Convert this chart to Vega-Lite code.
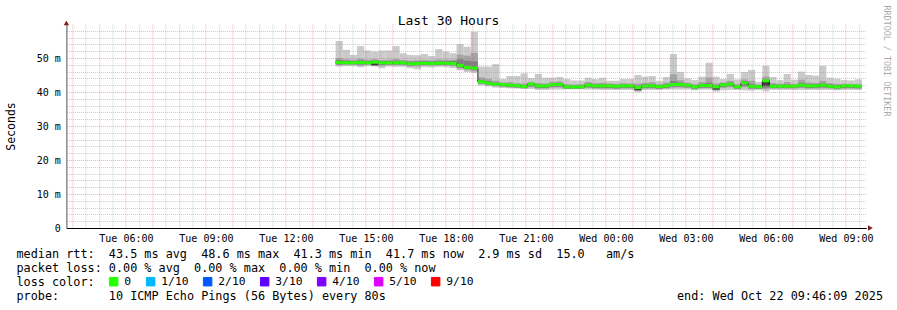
{
  "$schema": "https://vega.github.io/schema/vega-lite/v6.json",
  "width": 800,
  "height": 204,
  "autosize": {"type": "none"},
  "padding": {"left": 66.4, "top": 24, "right": 30.6, "bottom": 82},
  "background": "white",
  "config": {"view": {"stroke": null}, "font": "DejaVu Sans Mono"},
  "data": {
    "format": {"parse": {"s": "date", "e": "date"}},
    "values": [
      {"s":"2025-10-21T13:52Z","e":"2025-10-21T14:08Z","mn":47.5,"mx":55.0,"l2":47.9,"h2":50.0,"l3":48.1,"h3":49.4,"md":48.7,"loss":"0"},
      {"s":"2025-10-21T14:08Z","e":"2025-10-21T14:24Z","mn":47.6,"mx":52.4,"l2":48.0,"h2":49.6,"l3":48.2,"h3":49.2,"md":48.6,"loss":"0"},
      {"s":"2025-10-21T14:24Z","e":"2025-10-21T14:40Z","mn":47.6,"mx":50.9,"l2":48.0,"h2":49.5,"l3":48.2,"h3":49.1,"md":48.6,"loss":"0"},
      {"s":"2025-10-21T14:40Z","e":"2025-10-21T14:56Z","mn":47.3,"mx":53.5,"l2":47.8,"h2":49.8,"l3":48.1,"h3":49.3,"md":48.7,"loss":"0"},
      {"s":"2025-10-21T14:56Z","e":"2025-10-21T15:12Z","mn":47.6,"mx":52.2,"l2":48.0,"h2":49.5,"l3":48.2,"h3":49.1,"md":48.6,"loss":"0"},
      {"s":"2025-10-21T15:12Z","e":"2025-10-21T15:28Z","mn":47.5,"mx":51.9,"l2":47.8,"h2":49.6,"l3":48.0,"h3":49.3,"md":48.8,"loss":"0"},
      {"s":"2025-10-21T15:28Z","e":"2025-10-21T15:44Z","mn":47.0,"mx":52.2,"l2":47.6,"h2":49.4,"l3":48.0,"h3":49.1,"md":48.6,"loss":"0"},
      {"s":"2025-10-21T15:44Z","e":"2025-10-21T16:00Z","mn":47.5,"mx":52.2,"l2":47.9,"h2":49.5,"l3":48.1,"h3":49.1,"md":48.6,"loss":"0"},
      {"s":"2025-10-21T16:00Z","e":"2025-10-21T16:16Z","mn":47.4,"mx":53.5,"l2":47.9,"h2":49.7,"l3":48.1,"h3":49.2,"md":48.6,"loss":"0"},
      {"s":"2025-10-21T16:16Z","e":"2025-10-21T16:32Z","mn":47.4,"mx":51.4,"l2":47.9,"h2":49.4,"l3":48.1,"h3":49.1,"md":48.6,"loss":"0"},
      {"s":"2025-10-21T16:32Z","e":"2025-10-21T16:48Z","mn":47.0,"mx":50.9,"l2":47.5,"h2":49.2,"l3":47.8,"h3":48.9,"md":48.3,"loss":"0"},
      {"s":"2025-10-21T16:48Z","e":"2025-10-21T17:04Z","mn":46.7,"mx":50.8,"l2":47.5,"h2":49.3,"l3":47.9,"h3":49.0,"md":48.4,"loss":"0"},
      {"s":"2025-10-21T17:04Z","e":"2025-10-21T17:20Z","mn":47.3,"mx":51.2,"l2":47.8,"h2":49.4,"l3":48.0,"h3":49.1,"md":48.5,"loss":"0"},
      {"s":"2025-10-21T17:20Z","e":"2025-10-21T17:36Z","mn":47.2,"mx":50.6,"l2":47.7,"h2":49.3,"l3":48.0,"h3":49.0,"md":48.4,"loss":"0"},
      {"s":"2025-10-21T17:36Z","e":"2025-10-21T17:52Z","mn":47.4,"mx":52.6,"l2":47.8,"h2":49.6,"l3":48.0,"h3":49.1,"md":48.5,"loss":"0"},
      {"s":"2025-10-21T17:52Z","e":"2025-10-21T18:08Z","mn":47.3,"mx":51.9,"l2":47.8,"h2":49.5,"l3":48.0,"h3":49.1,"md":48.5,"loss":"0"},
      {"s":"2025-10-21T18:08Z","e":"2025-10-21T18:24Z","mn":47.0,"mx":51.4,"l2":47.6,"h2":49.5,"l3":47.9,"h3":49.1,"md":48.4,"loss":"0"},
      {"s":"2025-10-21T18:24Z","e":"2025-10-21T18:40Z","mn":46.4,"mx":54.1,"l2":46.9,"h2":51.0,"l3":47.2,"h3":49.6,"md":47.8,"loss":"0"},
      {"s":"2025-10-21T18:40Z","e":"2025-10-21T18:56Z","mn":45.9,"mx":53.3,"l2":46.4,"h2":50.7,"l3":46.8,"h3":49.2,"md":47.2,"loss":"0"},
      {"s":"2025-10-21T18:56Z","e":"2025-10-21T19:12Z","mn":45.6,"mx":57.7,"l2":46.1,"h2":51.5,"l3":46.5,"h3":49.0,"md":47.0,"loss":"0"},
      {"s":"2025-10-21T19:12Z","e":"2025-10-21T19:28Z","mn":41.9,"mx":47.5,"l2":42.3,"h2":44.3,"l3":42.6,"h3":43.6,"md":43.0,"loss":"0"},
      {"s":"2025-10-21T19:28Z","e":"2025-10-21T19:44Z","mn":41.6,"mx":47.5,"l2":42.0,"h2":43.9,"l3":42.2,"h3":43.2,"md":42.6,"loss":"0"},
      {"s":"2025-10-21T19:44Z","e":"2025-10-21T20:00Z","mn":41.3,"mx":48.2,"l2":41.7,"h2":43.3,"l3":41.9,"h3":42.8,"md":42.3,"loss":"0"},
      {"s":"2025-10-21T20:00Z","e":"2025-10-21T20:16Z","mn":41.2,"mx":43.8,"l2":41.5,"h2":42.8,"l3":41.7,"h3":42.5,"md":42.2,"loss":"0"},
      {"s":"2025-10-21T20:16Z","e":"2025-10-21T20:32Z","mn":41.1,"mx":44.7,"l2":41.3,"h2":42.9,"l3":41.5,"h3":42.4,"md":42.0,"loss":"0"},
      {"s":"2025-10-21T20:32Z","e":"2025-10-21T20:48Z","mn":41.0,"mx":44.7,"l2":41.2,"h2":42.6,"l3":41.4,"h3":42.2,"md":41.9,"loss":"0"},
      {"s":"2025-10-21T20:48Z","e":"2025-10-21T21:04Z","mn":40.9,"mx":45.5,"l2":41.0,"h2":42.5,"l3":41.2,"h3":42.1,"md":41.6,"loss":"0"},
      {"s":"2025-10-21T21:04Z","e":"2025-10-21T21:20Z","mn":40.9,"mx":44.1,"l2":41.4,"h2":42.9,"l3":41.7,"h3":42.7,"md":42.3,"loss":"0"},
      {"s":"2025-10-21T21:20Z","e":"2025-10-21T21:36Z","mn":40.6,"mx":45.3,"l2":41.0,"h2":42.6,"l3":41.2,"h3":42.2,"md":41.8,"loss":"0"},
      {"s":"2025-10-21T21:36Z","e":"2025-10-21T21:52Z","mn":40.6,"mx":44.2,"l2":41.0,"h2":42.5,"l3":41.2,"h3":42.2,"md":41.8,"loss":"0"},
      {"s":"2025-10-21T21:52Z","e":"2025-10-21T22:08Z","mn":40.7,"mx":44.2,"l2":41.3,"h2":43.0,"l3":41.6,"h3":42.6,"md":42.2,"loss":"0"},
      {"s":"2025-10-21T22:08Z","e":"2025-10-21T22:24Z","mn":40.7,"mx":44.4,"l2":41.3,"h2":43.1,"l3":41.6,"h3":42.7,"md":42.2,"loss":"0"},
      {"s":"2025-10-21T22:24Z","e":"2025-10-21T22:40Z","mn":40.8,"mx":43.8,"l2":41.0,"h2":42.3,"l3":41.0,"h3":41.9,"md":41.5,"loss":"0"},
      {"s":"2025-10-21T22:40Z","e":"2025-10-21T22:56Z","mn":40.8,"mx":43.4,"l2":41.0,"h2":42.2,"l3":41.0,"h3":41.9,"md":41.5,"loss":"0"},
      {"s":"2025-10-21T22:56Z","e":"2025-10-21T23:12Z","mn":40.8,"mx":43.4,"l2":41.0,"h2":42.3,"l3":41.0,"h3":41.9,"md":41.5,"loss":"0"},
      {"s":"2025-10-21T23:12Z","e":"2025-10-21T23:28Z","mn":40.7,"mx":44.2,"l2":41.2,"h2":42.9,"l3":41.4,"h3":42.5,"md":42.0,"loss":"0"},
      {"s":"2025-10-21T23:28Z","e":"2025-10-21T23:44Z","mn":40.7,"mx":43.8,"l2":41.0,"h2":42.6,"l3":41.2,"h3":42.2,"md":41.8,"loss":"0"},
      {"s":"2025-10-21T23:44Z","e":"2025-10-22T00:00Z","mn":40.6,"mx":44.2,"l2":41.0,"h2":42.7,"l3":41.2,"h3":42.3,"md":41.8,"loss":"0"},
      {"s":"2025-10-22T00:00Z","e":"2025-10-22T00:16Z","mn":40.6,"mx":43.3,"l2":41.0,"h2":42.5,"l3":41.2,"h3":42.2,"md":41.8,"loss":"0"},
      {"s":"2025-10-22T00:16Z","e":"2025-10-22T00:32Z","mn":40.6,"mx":43.3,"l2":40.9,"h2":42.4,"l3":41.1,"h3":42.1,"md":41.7,"loss":"0"},
      {"s":"2025-10-22T00:32Z","e":"2025-10-22T00:48Z","mn":40.6,"mx":43.8,"l2":41.0,"h2":42.6,"l3":41.2,"h3":42.2,"md":41.8,"loss":"0"},
      {"s":"2025-10-22T00:48Z","e":"2025-10-22T01:04Z","mn":40.6,"mx":43.8,"l2":41.0,"h2":42.5,"l3":41.2,"h3":42.2,"md":41.8,"loss":"0"},
      {"s":"2025-10-22T01:04Z","e":"2025-10-22T01:20Z","mn":40.0,"mx":45.0,"l2":40.5,"h2":42.5,"l3":40.7,"h3":41.8,"md":41.3,"loss":"0"},
      {"s":"2025-10-22T01:20Z","e":"2025-10-22T01:36Z","mn":40.6,"mx":44.5,"l2":41.0,"h2":42.7,"l3":41.2,"h3":42.3,"md":41.8,"loss":"0"},
      {"s":"2025-10-22T01:36Z","e":"2025-10-22T01:52Z","mn":40.6,"mx":44.7,"l2":41.0,"h2":42.9,"l3":41.2,"h3":42.3,"md":41.8,"loss":"0"},
      {"s":"2025-10-22T01:52Z","e":"2025-10-22T02:08Z","mn":40.6,"mx":43.3,"l2":40.9,"h2":42.3,"l3":41.0,"h3":42.0,"md":41.6,"loss":"0"},
      {"s":"2025-10-22T02:08Z","e":"2025-10-22T02:24Z","mn":40.7,"mx":44.4,"l2":41.0,"h2":42.8,"l3":41.2,"h3":42.3,"md":41.8,"loss":"0"},
      {"s":"2025-10-22T02:24Z","e":"2025-10-22T02:40Z","mn":40.7,"mx":51.2,"l2":41.3,"h2":45.2,"l3":41.6,"h3":43.2,"md":42.2,"loss":"0"},
      {"s":"2025-10-22T02:40Z","e":"2025-10-22T02:56Z","mn":40.7,"mx":45.9,"l2":41.3,"h2":43.5,"l3":41.6,"h3":42.8,"md":42.2,"loss":"0"},
      {"s":"2025-10-22T02:56Z","e":"2025-10-22T03:12Z","mn":40.7,"mx":44.0,"l2":41.2,"h2":42.7,"l3":41.4,"h3":42.4,"md":42.0,"loss":"0"},
      {"s":"2025-10-22T03:12Z","e":"2025-10-22T03:28Z","mn":40.5,"mx":43.5,"l2":40.8,"h2":42.3,"l3":41.0,"h3":41.9,"md":41.5,"loss":"0"},
      {"s":"2025-10-22T03:28Z","e":"2025-10-22T03:44Z","mn":40.7,"mx":44.5,"l2":41.1,"h2":42.9,"l3":41.3,"h3":42.4,"md":41.9,"loss":"0"},
      {"s":"2025-10-22T03:44Z","e":"2025-10-22T04:00Z","mn":40.7,"mx":48.6,"l2":41.1,"h2":44.3,"l3":41.3,"h3":42.7,"md":41.9,"loss":"0"},
      {"s":"2025-10-22T04:00Z","e":"2025-10-22T04:16Z","mn":40.1,"mx":44.5,"l2":40.6,"h2":42.5,"l3":40.8,"h3":41.9,"md":41.5,"loss":"0"},
      {"s":"2025-10-22T04:16Z","e":"2025-10-22T04:32Z","mn":40.5,"mx":43.8,"l2":41.2,"h2":42.8,"l3":41.5,"h3":42.5,"md":42.1,"loss":"0"},
      {"s":"2025-10-22T04:32Z","e":"2025-10-22T04:48Z","mn":40.6,"mx":45.3,"l2":41.4,"h2":43.3,"l3":41.7,"h3":42.8,"md":42.3,"loss":"0"},
      {"s":"2025-10-22T04:48Z","e":"2025-10-22T05:04Z","mn":40.6,"mx":43.7,"l2":40.9,"h2":42.3,"l3":41.0,"h3":41.9,"md":41.5,"loss":"0"},
      {"s":"2025-10-22T05:04Z","e":"2025-10-22T05:20Z","mn":40.5,"mx":45.9,"l2":41.4,"h2":43.7,"l3":41.8,"h3":43.2,"md":42.7,"loss":"0"},
      {"s":"2025-10-22T05:20Z","e":"2025-10-22T05:36Z","mn":40.4,"mx":46.5,"l2":40.9,"h2":43.3,"l3":41.1,"h3":42.3,"md":41.7,"loss":"0"},
      {"s":"2025-10-22T05:36Z","e":"2025-10-22T05:52Z","mn":40.6,"mx":43.0,"l2":40.9,"h2":42.2,"l3":41.0,"h3":41.9,"md":41.5,"loss":"0"},
      {"s":"2025-10-22T05:52Z","e":"2025-10-22T06:08Z","mn":40.2,"mx":47.7,"l2":40.9,"h2":44.5,"l3":41.3,"h3":43.7,"md":43.3,"loss":"0"},
      {"s":"2025-10-22T06:08Z","e":"2025-10-22T06:24Z","mn":40.6,"mx":44.4,"l2":41.0,"h2":42.6,"l3":41.2,"h3":42.2,"md":41.7,"loss":"0"},
      {"s":"2025-10-22T06:24Z","e":"2025-10-22T06:40Z","mn":40.6,"mx":43.5,"l2":41.0,"h2":42.4,"l3":41.2,"h3":42.1,"md":41.7,"loss":"0"},
      {"s":"2025-10-22T06:40Z","e":"2025-10-22T06:56Z","mn":40.6,"mx":45.3,"l2":41.0,"h2":42.9,"l3":41.2,"h3":42.2,"md":41.7,"loss":"0"},
      {"s":"2025-10-22T06:56Z","e":"2025-10-22T07:12Z","mn":40.6,"mx":43.6,"l2":41.0,"h2":42.3,"l3":41.2,"h3":42.1,"md":41.7,"loss":"0"},
      {"s":"2025-10-22T07:12Z","e":"2025-10-22T07:28Z","mn":40.6,"mx":46.0,"l2":41.2,"h2":43.6,"l3":41.4,"h3":42.6,"md":42.0,"loss":"0"},
      {"s":"2025-10-22T07:28Z","e":"2025-10-22T07:44Z","mn":40.6,"mx":45.0,"l2":41.0,"h2":42.8,"l3":41.2,"h3":42.3,"md":41.8,"loss":"0"},
      {"s":"2025-10-22T07:44Z","e":"2025-10-22T08:00Z","mn":40.6,"mx":44.8,"l2":41.0,"h2":42.7,"l3":41.2,"h3":42.3,"md":41.8,"loss":"0"},
      {"s":"2025-10-22T08:00Z","e":"2025-10-22T08:16Z","mn":40.6,"mx":47.7,"l2":41.1,"h2":43.3,"l3":41.4,"h3":42.5,"md":42.0,"loss":"0"},
      {"s":"2025-10-22T08:16Z","e":"2025-10-22T08:32Z","mn":40.6,"mx":44.2,"l2":41.0,"h2":42.6,"l3":41.2,"h3":42.2,"md":41.7,"loss":"0"},
      {"s":"2025-10-22T08:32Z","e":"2025-10-22T08:48Z","mn":40.5,"mx":43.9,"l2":40.8,"h2":42.4,"l3":41.0,"h3":42.0,"md":41.5,"loss":"0"},
      {"s":"2025-10-22T08:48Z","e":"2025-10-22T09:04Z","mn":40.6,"mx":43.5,"l2":41.0,"h2":42.4,"l3":41.2,"h3":42.1,"md":41.8,"loss":"0"},
      {"s":"2025-10-22T09:04Z","e":"2025-10-22T09:20Z","mn":40.6,"mx":43.4,"l2":41.0,"h2":42.3,"l3":41.2,"h3":42.1,"md":41.8,"loss":"0"},
      {"s":"2025-10-22T09:20Z","e":"2025-10-22T09:36Z","mn":40.6,"mx":43.7,"l2":41.0,"h2":42.3,"l3":41.1,"h3":42.0,"md":41.7,"loss":"0"}
    ]
  },
  "layer": [
    {
      "mark": {"type": "rect", "fill": "#cacaca"},
      "encoding": {
        "x": {
          "field": "s", "type": "temporal",
          "scale": {"type": "utc", "nice": false, "domain": [
            {"year": 2025, "month": 10, "date": 21, "hours": 3, "minutes": 46, "seconds": 9, "utc": true},
            {"year": 2025, "month": 10, "date": 22, "hours": 9, "minutes": 46, "seconds": 9, "utc": true}
          ]},
          "axis": {
            "orient": "bottom",
            "tickCount": 60,
            "grid": true,
            "gridColor": {"condition": {"test": "utcminutes(datum.value) == 0", "value": "#e06464"}, "value": "#a0a0a0"},
            "gridOpacity": {"condition": {"test": "utcminutes(datum.value) == 0", "value": 0.5}, "value": 0.55},
            "gridDash": [1, 1],
            "ticks": false,
            "domain": true, "domainColor": "#000000", "domainWidth": 1,
            "labelExpr": "utcminutes(datum.value) == 0 && utchours(datum.value) % 3 == 0 ? utcFormat(datum.value, '%a %H:%M') : ''",
            "labelOverlap": false, "labelFlush": false, "labelBound": false,
            "labelFont": "DejaVu Sans Mono", "labelFontSize": 10, "labelColor": "#000000", "labelPadding": 5, "labelBaseline": "top",
            "title": [
              "median rtt:\u00a0\u00a043.5 ms avg\u00a0\u00a048.6 ms max\u00a0\u00a041.3 ms min\u00a0\u00a041.7 ms now\u00a0\u00a02.9 ms sd\u00a0\u00a015.0\u00a0\u00a0\u00a0am/s",
              "packet loss: 0.00 % avg\u00a0\u00a00.00 % max\u00a0\u00a00.00 % min\u00a0\u00a00.00 % now",
              "loss color:",
              "probe:\u00a0\u00a0\u00a0\u00a0\u00a0\u00a0\u00a010 ICMP Echo Pings (56 Bytes) every 80s\u00a0\u00a0\u00a0\u00a0\u00a0\u00a0\u00a0\u00a0\u00a0\u00a0\u00a0\u00a0\u00a0\u00a0\u00a0\u00a0\u00a0\u00a0\u00a0\u00a0\u00a0\u00a0\u00a0\u00a0\u00a0\u00a0\u00a0\u00a0\u00a0\u00a0\u00a0\u00a0\u00a0\u00a0\u00a0\u00a0\u00a0\u00a0\u00a0\u00a0\u00a0end: Wed Oct 22 09:46:09 2025"
            ],
            "titleFont": "DejaVu Sans Mono", "titleFontSize": 11.8, "titleFontWeight": "normal", "titleColor": "#000000",
            "titleAlign": "left", "titleAnchor": "start", "titleBaseline": "alphabetic",
            "titleX": -50.4, "titleY": 29.7, "titleLineHeight": 14,
            "zindex": 1
          }
        },
        "x2": {"field": "e"},
        "y": {
          "field": "mn", "type": "quantitative",
          "scale": {"domain": [0, 60], "nice": false, "zero": true},
          "axis": {
            "orient": "left",
            "values": [0,2,4,6,8,10,12,14,16,18,20,22,24,26,28,30,32,34,36,38,40,42,44,46,48,50,52,54,56,58],
            "grid": true,
            "gridColor": {"condition": {"test": "datum.value % 10 == 0", "value": "#e06464"}, "value": "#a0a0a0"},
            "gridOpacity": {"condition": {"test": "datum.value % 10 == 0", "value": 0.5}, "value": 0.55},
            "gridDash": [1, 1],
            "ticks": false,
            "domain": true, "domainColor": "#555555",
            "labelExpr": "datum.value % 10 == 0 ? (datum.value == 0 ? '0\u00a0\u00a0' : datum.value + ' m') : ''",
            "labelOverlap": false, "labelFlush": false, "labelBound": false,
            "labelFont": "DejaVu Sans Mono", "labelFontSize": 10, "labelColor": "#000000", "labelPadding": 6,
            "title": "Seconds",
            "titleFont": "DejaVu Sans Mono", "titleFontSize": 11.5, "titleFontWeight": "normal", "titleColor": "#000000",
            "titleAngle": 270, "titleX": -55.4, "titleY": 102, "titleAlign": "center", "titleBaseline": "middle",
            "zindex": 1
          }
        },
        "y2": {"field": "mx"}
      }
    },
    {
      "mark": {"type": "rect", "fill": "#a4a4a4"},
      "encoding": {
        "x": {"field": "s", "type": "temporal", "axis": null},
        "x2": {"field": "e"},
        "y": {"field": "l2", "type": "quantitative", "axis": null},
        "y2": {"field": "h2"}
      }
    },
    {
      "mark": {"type": "rect", "fill": "#7e7e7e"},
      "encoding": {
        "x": {"field": "s", "type": "temporal", "axis": null},
        "x2": {"field": "e"},
        "y": {"field": "l3", "type": "quantitative", "axis": null},
        "y2": {"field": "h3"}
      }
    },
    {
      "data": {
        "format": {"parse": {"s": "date", "e": "date"}},
        "values": [
          {"s":"2025-10-21T15:12Z","e":"2025-10-21T15:28Z","lo":47.8,"hi":48.4},
          {"s":"2025-10-22T01:04Z","e":"2025-10-22T01:20Z","lo":40.5,"hi":41.2},
          {"s":"2025-10-22T04:00Z","e":"2025-10-22T04:16Z","lo":40.7,"hi":41.2},
          {"s":"2025-10-22T05:52Z","e":"2025-10-22T06:08Z","lo":41.8,"hi":43.0}
        ]
      },
      "mark": {"type": "rect", "fill": "#3a3a3a"},
      "encoding": {
        "x": {"field": "s", "type": "temporal", "axis": null},
        "x2": {"field": "e"},
        "y": {"field": "lo", "type": "quantitative", "axis": null},
        "y2": {"field": "hi"}
      }
    },
    {
      "mark": {"type": "line", "interpolate": "step-after", "color": "#202020", "strokeWidth": 1},
      "encoding": {
        "x": {"field": "s", "type": "temporal", "axis": null},
        "y": {"field": "md", "type": "quantitative", "axis": null}
      }
    },
    {
      "mark": {"type": "rule", "strokeWidth": 3, "strokeCap": "butt", "opacity": 1},
      "encoding": {
        "x": {
          "field": "s", "type": "temporal",
          "axis": {
            "orient": "top", "domain": false, "ticks": false, "labels": false, "grid": false,
            "title": "Last 30 Hours",
            "titleFont": "DejaVu Sans Mono", "titleFontSize": 13, "titleFontWeight": "normal", "titleColor": "#000000",
            "titleX": 381.6, "titleY": 0, "titleAlign": "center", "titleBaseline": "alphabetic"
          }
        },
        "x2": {"field": "e"},
        "y": {
          "field": "md", "type": "quantitative",
          "axis": {
            "orient": "right", "domain": false, "ticks": false, "labels": false, "grid": false,
            "title": "RRDTOOL / TOBI OETIKER",
            "titleFont": "DejaVu Sans Mono", "titleFontSize": 8.4, "titleFontWeight": "normal", "titleColor": "#aaaaaa",
            "titleAngle": 90, "titleX": 19.6, "titleY": -19, "titleAlign": "left", "titleBaseline": "middle"
          }
        },
        "color": {
          "field": "loss", "type": "nominal",
          "scale": {
            "domain": ["0", "1/10", "2/10", "3/10", "4/10", "5/10", "9/10"],
            "range": ["#26ff00", "#00b8ff", "#0059ff", "#5e00ff", "#7e00ff", "#dd00ff", "#ff0000"]
          },
          "legend": {
            "orient": "none", "legendX": 41.6, "legendY": 252, "direction": "horizontal",
            "title": null, "padding": 0,
            "symbolType": "square", "symbolSize": 72, "symbolStrokeColor": "#000000", "symbolStrokeWidth": 1, "symbolOpacity": 1,
            "labelFont": "DejaVu Sans Mono", "labelFontSize": 11.3, "labelColor": "#000000", "labelOffset": 5,
            "columnPadding": 12,
            "encode": {"symbols": {"update": {"fill": {"scale": "color", "field": "value"}, "stroke": {"value": "#000000"}, "strokeWidth": {"value": 1}, "opacity": {"value": 1}}}}
          }
        }
      }
    },
    {
      "data": {"values": [{"a": 1}]},
      "mark": {"type": "point", "shape": "triangle-up", "filled": true, "color": "#801f1f", "size": 30, "opacity": 1, "yOffset": -1},
      "encoding": {
        "x": {"datum": 1761018369000, "type": "temporal", "axis": null},
        "y": {"datum": 60, "type": "quantitative", "axis": null}
      }
    },
    {
      "data": {"values": [{"a": 1}]},
      "mark": {"type": "point", "shape": "triangle-right", "filled": true, "color": "#801f1f", "size": 30, "opacity": 1, "xOffset": 4},
      "encoding": {
        "x": {"datum": 1761126369000, "type": "temporal", "axis": null},
        "y": {"datum": 0, "type": "quantitative", "axis": null}
      }
    }
  ],
  "resolve": {"axis": {"x": "independent", "y": "independent"}}
}
